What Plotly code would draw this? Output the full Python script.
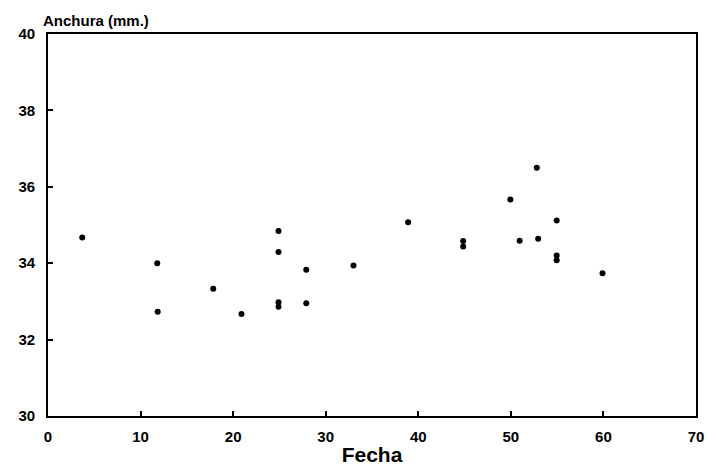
import plotly.graph_objects as go

fecha = [3.7, 11.8, 11.85, 17.85, 20.9, 24.9, 24.9, 24.9, 24.9, 27.9, 27.9,
         33.0, 38.9, 44.85, 44.85, 49.95, 50.95, 52.8, 52.95, 54.95, 54.95, 54.95, 59.9]
anchura = [34.67, 34.0, 32.73, 33.33, 32.67, 34.84, 34.29, 32.98, 32.86, 33.83, 32.95,
           33.94, 35.07, 34.58, 34.44, 35.67, 34.59, 36.5, 34.64, 35.12, 34.2, 34.08, 33.74]

x_ticks = [0, 10, 20, 30, 40, 50, 60, 70]
y_ticks = [30, 32, 34, 36, 38, 40]

fig = go.Figure()
fig.add_trace(go.Scatter(x=fecha, y=anchura, mode="markers",
                         marker=dict(color="black", size=6), showlegend=False))

axis_common = dict(showline=True, mirror=True, linecolor="black", linewidth=1.6,
                   ticks="inside", ticklen=5, tickwidth=1.5, tickcolor="black",
                   showgrid=False, zeroline=False,
                   tickfont=dict(family="Liberation Sans", size=15, color="black"))

fig.update_layout(
    width=716, height=475,
    margin=dict(l=48, r=17, t=34, b=59),
    paper_bgcolor="white", plot_bgcolor="white",
    xaxis=dict(range=[0, 70], tickvals=x_ticks,
               ticktext=[f"<b>{v}</b>" for v in x_ticks], ticklabelstandoff=6,
               title=dict(text="<b>Fecha</b>", standoff=4,
                          font=dict(family="Liberation Sans", size=21, color="black")),
               **axis_common),
    yaxis=dict(range=[30, 40], tickvals=y_ticks,
               ticktext=[f"<b>{v}</b>" for v in y_ticks], ticklabelstandoff=8,
               **axis_common),
    annotations=[dict(text="<b>Anchura (mm.)</b>", xref="paper", yref="paper",
                      x=0, y=1, xanchor="left", yanchor="bottom", xshift=-7, yshift=3,
                      showarrow=False,
                      font=dict(family="Liberation Sans", size=15, color="black"))],
)

fig.write_html("out.html")
